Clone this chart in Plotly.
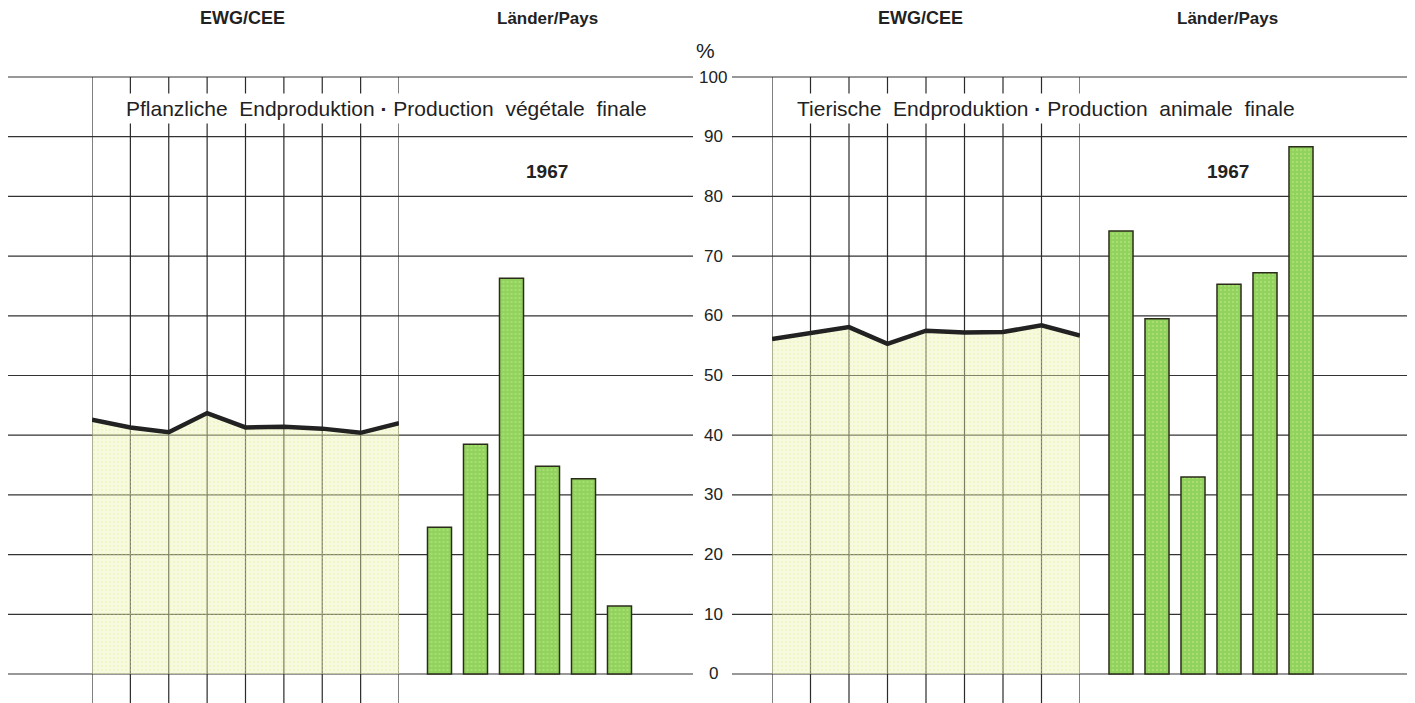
import plotly.graph_objects as go

# ---------------- data ----------------
years = [1959, 1960, 1961, 1962, 1963, 1964, 1965, 1966, 1967]
plant_eec = [42.6, 41.3, 40.5, 43.7, 41.3, 41.4, 41.1, 40.4, 42.0]
animal_eec = [56.1, 57.1, 58.1, 55.3, 57.5, 57.2, 57.3, 58.4, 56.7]

countries = ["BR Deutschland", "France", "Italia", "Nederland", "Belgique/België", "Luxembourg"]
plant_countries = [24.6, 38.5, 66.3, 34.8, 32.7, 11.4]
animal_countries = [74.2, 59.5, 33.0, 65.3, 67.2, 88.3]

y_ticks = [0, 10, 20, 30, 40, 50, 60, 70, 80, 90, 100]
y_tick_labels = ["0", "10", "20", "30", "40", "50", "60", "70", "80", "90", "100"]

header_eec = "EWG/CEE"
header_countries = "Länder/Pays"
WS = " \u00a0"   # wide word spacing of the original typesetting
DS = " "
DOT = "<b>·</b>"
title_plant = f"Pflanzliche{WS}Endproduktion{DS}{DOT}{DS}Production{WS}végétale{WS}finale"
title_animal = f"Tierische{WS}Endproduktion{DS}{DOT}{DS}Production{WS}animale{WS}finale"
year_label = "1967"

# ---------------- layout constants ----------------
OFF = 8                      # page body margin of the browser
W, H = 1415 - OFF, 703 - OFF
Y_MIN, Y_MAX = -4.86, 111.56
FONT = "Liberation Sans, Arial, Helvetica, sans-serif"
INK = "#222222"
LINE_FILL = "rgba(238, 243, 178, 0.42)"
BAR_GREEN = "#90d25c"


def px(v):
    return (v - OFF) / W


def py(v):
    return 1 - (v - OFF) / H


fig = go.Figure()

# EEC lines with pale fill
for xa, vals in (("x", plant_eec), ("x3", animal_eec)):
    fig.add_trace(go.Scatter(
        x=years, y=vals, xaxis=xa, yaxis="y", mode="lines",
        line=dict(color="#222222", width=4.5),
        fill="tozeroy", fillcolor=LINE_FILL,
        fillpattern=dict(shape=".", bgcolor=LINE_FILL, fgcolor="rgba(222,230,140,0.55)",
                         size=4, solidity=0.25),
        hoverinfo="skip", showlegend=False,
    ))

# Country bars
for xa, vals in (("x2", plant_countries), ("x4", animal_countries)):
    fig.add_trace(go.Bar(
        x=countries, y=vals, xaxis=xa, yaxis="y",
        marker=dict(color=BAR_GREEN, line=dict(color="#2b2b1a", width=1.5),
                    pattern=dict(shape=".", fgcolor="#c4e98c", size=4, solidity=0.25)),
        hoverinfo="skip", showlegend=False,
    ))

shapes = []
# horizontal grid lines (left and right halves, gap for the central scale)
for t in y_ticks:
    for x0, x1 in ((8, 693), (732, 1415)):
        shapes.append(dict(type="line", xref="paper", yref="y",
                           x0=px(x0), x1=px(x1), y0=t, y1=t,
                           line=dict(color="#333333", width=1.2), layer="below"))
# vertical year lines
for xa in ("x", "x3"):
    for yr in years:
        shapes.append(dict(type="line", xref=xa, yref="y", x0=yr, x1=yr,
                           y0=100, y1=Y_MIN,
                           line=dict(color="#2a2a2a", width=1.2), layer="below"))

annotations = []


def txt(text, x, y, size, bold=False, bg=None, pad=1):
    d = dict(text=f"<b>{text}</b>" if bold else text, xref="paper", yref="paper",
             x=px(x), y=py(y), xanchor="center", yanchor="middle", showarrow=False,
             font=dict(family=FONT, size=size, color=INK), borderpad=pad)
    if bg:
        d["bgcolor"] = bg
    annotations.append(d)


txt(header_eec, 242, 18, 18, bold=True)
txt(header_countries, 547, 18, 17, bold=True)
txt(header_eec, 920, 18, 18, bold=True)
txt(header_countries, 1227, 18, 17, bold=True)
txt(title_plant, 387, 108, 21, bg="white", pad=3)
txt(title_animal, 1046, 108, 21, bg="white", pad=3)
txt(year_label, 547, 172, 19, bold=True)
txt(year_label, 1228, 172, 19, bold=True)
txt("%", 705, 50, 21)

for t, lab in zip(y_ticks, y_tick_labels):
    annotations.append(dict(text=lab, xref="paper", yref="y", x=px(713), y=t,
                            xanchor="center", yanchor="middle", showarrow=False,
                            font=dict(family=FONT, size=17, color=INK)))

hidden = dict(visible=False, showgrid=False, zeroline=False, fixedrange=True)
fig.update_layout(
    width=W, height=H,
    margin=dict(l=0, r=0, t=0, b=0, pad=0),
    paper_bgcolor="white", plot_bgcolor="rgba(0,0,0,0)",
    showlegend=False, bargap=0.333,
    xaxis=dict(domain=[px(92), px(399)], range=[years[0], years[-1]], anchor="y", **hidden),
    xaxis2=dict(domain=[px(421.5), px(637.5)], range=[-0.5, 5.5], type="category", anchor="y", **hidden),
    xaxis3=dict(domain=[px(772), px(1080)], range=[years[0], years[-1]], anchor="y", **hidden),
    xaxis4=dict(domain=[px(1103), px(1319)], range=[-0.5, 5.5], type="category", anchor="y", **hidden),
    yaxis=dict(domain=[0, 1], range=[Y_MIN, Y_MAX], **hidden),
    shapes=shapes, annotations=annotations,
)

fig.write_html("out.html")
